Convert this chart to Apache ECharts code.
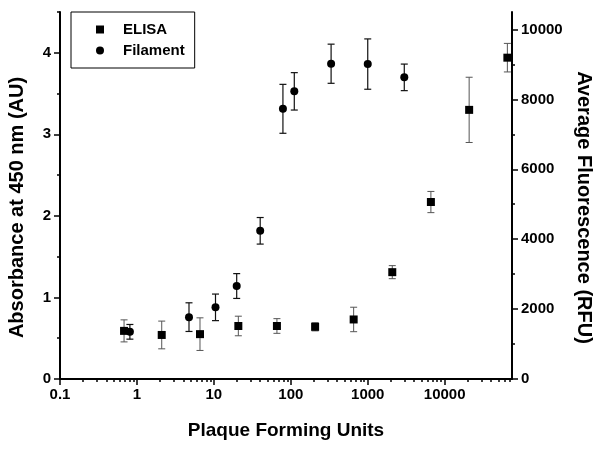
<!DOCTYPE html>
<html><head><meta charset="utf-8">
<script src="https://cdn.jsdelivr.net/npm/echarts@6/dist/echarts.min.js"></script>
<style>html,body{margin:0;padding:0;background:#fff}#c{width:604px;height:449px}</style>
</head><body><div id="c"></div>
<script>
// ---- data ----
const elisaX   = [0.68, 2.1, 6.6, 20.8, 66, 207, 656, 2084, 6620, 20800, 65300];
const elisaY   = [0.59, 0.54, 0.55, 0.65, 0.65, 0.64, 0.73, 1.31, 2.17, 3.30, 3.94];
const elisaErr = [0.135, 0.17, 0.20, 0.12, 0.09, 0.05, 0.15, 0.08, 0.13, 0.40, 0.175];

const filX   = [0.81, 4.75, 10.5, 19.8, 40, 79, 111, 334, 1000, 2985];
const filY   = [1350, 1770, 2050, 2660, 4240, 7730, 8230, 9020, 9010, 8630];
const filErr = [210, 410, 380, 355, 380, 700, 535, 560, 720, 380];

const xMajorTicks = [0.1, 1, 10, 100, 1000, 10000];
const leftMajorTicks = [0, 1, 2, 3, 4];
const leftMinorTicks = [0.5, 1.5, 2.5, 3.5, 4.5];
const rightMajorTicks = [0, 2000, 4000, 6000, 8000, 10000];
const rightMinorTicks = [1000, 3000, 5000, 7000, 9000];
const xMinorTicks = [];
for (let d = 0.1; d < 20000; d *= 10) {
  for (let m = 2; m <= 9; m++) {
    const v = +(m * d).toPrecision(6);
    if (v < 75000) xMinorTicks.push(v);
  }
}

const FONT = '"Liberation Sans", Arial, sans-serif';
const chart = echarts.init(document.getElementById('c'));

function errSeries(name, xs, ys, es, yIdx, color, lw) {
  return {
    type: 'custom', name: name, xAxisIndex: 0, yAxisIndex: yIdx, z: 2, silent: true,
    data: xs.map((x, i) => [x, ys[i] - es[i], ys[i] + es[i]]),
    encode: { x: 0, y: [1, 2] },
    renderItem: function (params, api) {
      const x = api.value(0);
      const p1 = api.coord([x, api.value(1)]);
      const p2 = api.coord([x, api.value(2)]);
      const w = 3.5;
      const st = { stroke: color, lineWidth: lw };
      return { type: 'group', children: [
        { type: 'line', shape: { x1: p1[0], y1: p1[1], x2: p2[0], y2: p2[1] }, style: st },
        { type: 'line', shape: { x1: p1[0] - w, y1: p1[1], x2: p1[0] + w, y2: p1[1] }, style: st },
        { type: 'line', shape: { x1: p2[0] - w, y1: p2[1], x2: p2[0] + w, y2: p2[1] }, style: st }
      ]};
    }
  };
}

const lineStyle = { color: '#000', width: 2 };
const labelStyle = { color: '#000', fontFamily: FONT, fontWeight: 'bold', fontSize: 15 };
const xNameStyle = { color: '#000', fontFamily: FONT, fontWeight: 'bold', fontSize: 19 };

const option = {
  animation: false,
  backgroundColor: '#fff',
  grid: { left: 60, right: 92, top: 12, bottom: 70, containLabel: false, outerBoundsMode: 'none' },
  legend: {
    left: 71, top: 12, orient: 'vertical',
    data: ['ELISA', 'Filament'],
    itemWidth: 8, itemHeight: 8, itemGap: 4,
    padding: [9, 10, 9, 25],
    borderColor: '#000', borderWidth: 1,
    selectedMode: false,
    textStyle: { color: '#000', fontFamily: FONT, fontWeight: 'bold', fontSize: 15, lineHeight: 17, padding: [0, 0, 0, 14] }
  },
  xAxis: [
    {
      type: 'log', logBase: 10, min: 0.1, max: 75000,
      name: 'Plaque Forming Units', nameLocation: 'middle', nameGap: 42, nameTextStyle: xNameStyle,
      axisLine: { show: true, onZero: false, lineStyle: lineStyle },
      axisTick: { show: true, inside: false, length: 6, lineStyle: { color: '#000', width: 1.5 }, customValues: xMajorTicks },
      axisLabel: Object.assign({ margin: 8, customValues: xMajorTicks,
        formatter: v => String(+(+v).toPrecision(6)) }, labelStyle),
      splitLine: { show: false }
    },
    {
      type: 'log', logBase: 10, min: 0.1, max: 75000, position: 'bottom', offset: 0,
      axisLine: { show: false, onZero: false },
      axisTick: { show: true, inside: false, length: 3, lineStyle: { color: '#000', width: 1.5 }, customValues: xMinorTicks },
      axisLabel: { show: false },
      splitLine: { show: false }
    }
  ],
  yAxis: [
    {
      type: 'value', min: 0, max: 4.5, interval: 0.5, position: 'left',
      name: 'Absorbance at 450 nm (AU)', nameLocation: 'middle', nameGap: 33,
      nameTextStyle: { color: '#000', fontFamily: FONT, fontWeight: 'bold', fontSize: 20, padding: [0, 24, 0, 0] },
      axisLine: { show: true, onZero: false, lineStyle: lineStyle },
      axisTick: { show: true, length: 6, lineStyle: { color: '#000', width: 1.5 }, customValues: leftMajorTicks },
      axisLabel: Object.assign({ margin: 9, customValues: leftMajorTicks }, labelStyle),
      splitLine: { show: false }
    },
    {
      type: 'value', min: 0, max: 10500, interval: 1000, position: 'right',
      name: 'Average Fluorescence (RFU)', nameLocation: 'middle', nameGap: 62, nameRotate: -90,
      nameTextStyle: { color: '#000', fontFamily: FONT, fontWeight: 'bold', fontSize: 20, padding: [0, 0, 0, 24] },
      axisLine: { show: true, onZero: false, lineStyle: lineStyle },
      axisTick: { show: true, length: 6, lineStyle: { color: '#000', width: 1.5 }, customValues: rightMajorTicks },
      axisLabel: Object.assign({ margin: 9, customValues: rightMajorTicks, formatter: v => String(v) }, labelStyle),
      splitLine: { show: false }
    },
    {
      type: 'value', min: 0, max: 4.5, interval: 0.5, position: 'left', offset: 0,
      axisLine: { show: false, onZero: false },
      axisTick: { show: true, length: 3, lineStyle: { color: '#000', width: 1.5 }, customValues: leftMinorTicks },
      axisLabel: { show: false }, splitLine: { show: false }
    },
    {
      type: 'value', min: 0, max: 10500, interval: 1000, position: 'right', offset: 0,
      axisLine: { show: false, onZero: false },
      axisTick: { show: true, length: 3, lineStyle: { color: '#000', width: 1.5 }, customValues: rightMinorTicks },
      axisLabel: { show: false }, splitLine: { show: false }
    }
  ],
  series: [
    errSeries('ELISA-err', elisaX, elisaY, elisaErr, 0, '#555', 1),
    errSeries('Filament-err', filX, filY, filErr, 1, '#111', 1.2),
    {
      type: 'scatter', name: 'ELISA', xAxisIndex: 0, yAxisIndex: 0, z: 3,
      symbol: 'rect', symbolSize: 8, itemStyle: { color: '#000', opacity: 1 },
      data: elisaX.map((x, i) => [x, elisaY[i]])
    },
    {
      type: 'scatter', name: 'Filament', xAxisIndex: 0, yAxisIndex: 1, z: 3,
      symbol: 'circle', symbolSize: 8, itemStyle: { color: '#000', opacity: 1 },
      data: filX.map((x, i) => [x, filY[i]])
    }
  ]
};
chart.setOption(option);
</script>
</body></html>
